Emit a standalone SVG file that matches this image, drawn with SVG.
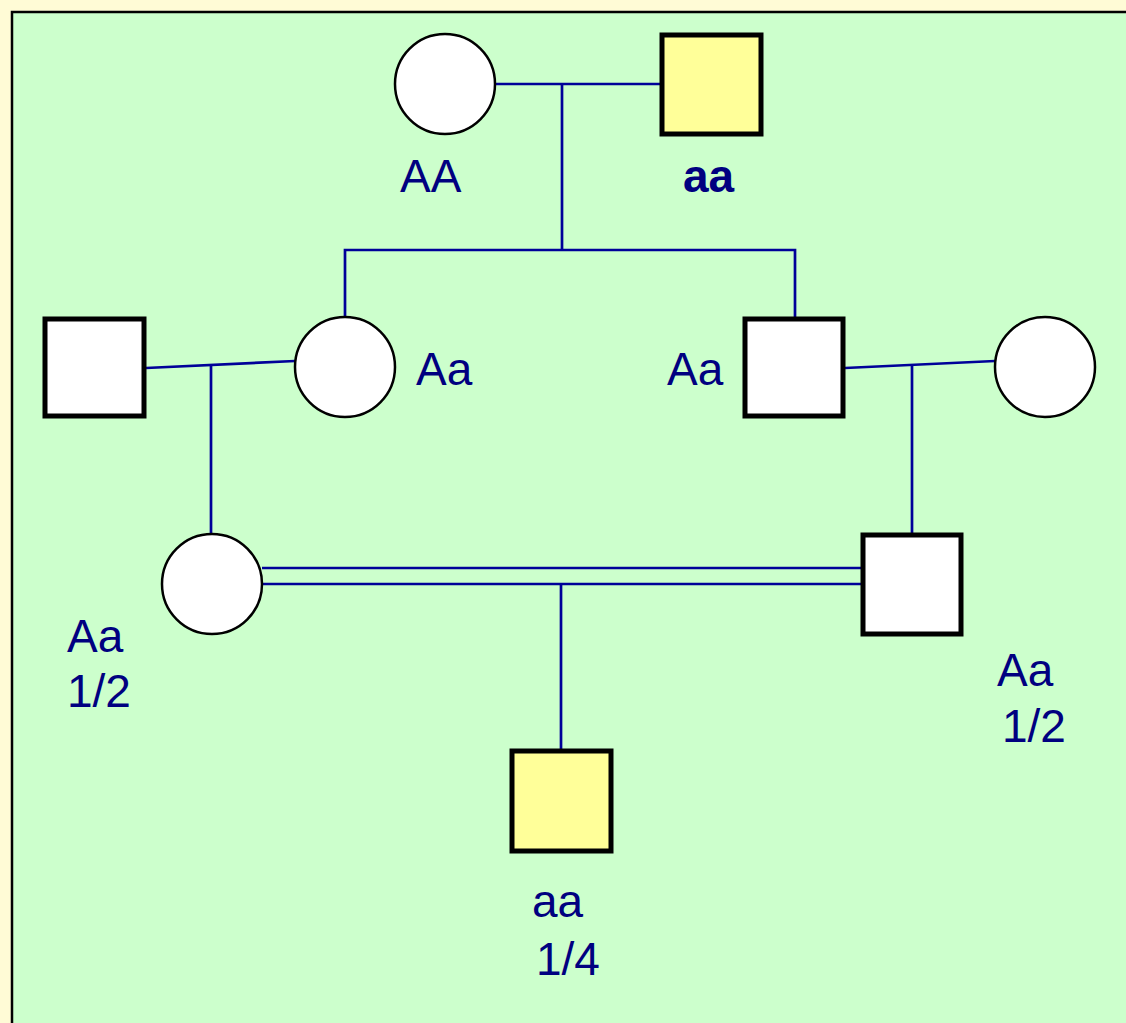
<svg xmlns="http://www.w3.org/2000/svg" width="1126" height="1023" viewBox="0 0 1126 1023">
<style>
.lbl{font-family:"Liberation Sans",Arial,sans-serif;font-size:46px;fill:#000080}
.b{font-weight:bold}
.c{fill:#ffffff;stroke:#000000;stroke-width:2.5}
.s{fill:#ffffff;stroke:#000000;stroke-width:5}
.aff{fill:#ffff99}
.ln{stroke:#000099;stroke-width:2.7;fill:none}
</style>
<rect x="0" y="0" width="1126" height="1023" fill="#fffbd6"/>
<rect x="12" y="12" width="1120" height="1020" fill="#ccffcc" stroke="#000000" stroke-width="2.5"/>
<g id="connectors">
<line class="ln" x1="496" y1="84" x2="660" y2="84"/>
<line class="ln" x1="562" y1="84" x2="562" y2="250"/>
<polyline class="ln" points="345,318 345,250 795,250 795,318"/>
<line class="ln" x1="146" y1="368" x2="295" y2="361"/>
<line class="ln" x1="211" y1="366" x2="211" y2="535"/>
<line class="ln" x1="845" y1="368" x2="995" y2="361"/>
<line class="ln" x1="912" y1="366" x2="912" y2="535"/>
<line class="ln" x1="262" y1="568" x2="862" y2="568"/>
<line class="ln" x1="262" y1="584" x2="862" y2="584"/>
<line class="ln" x1="561" y1="584" x2="561" y2="750"/>
</g>
<g id="g1-mother"><circle class="c" cx="445" cy="84" r="50"/><text class="lbl" x="400" y="192">AA</text></g>
<g id="g1-father"><rect class="s aff" x="662" y="35" width="99" height="99"/><text class="lbl b" x="683" y="192">aa</text></g>
<g id="g2-left-husband"><rect class="s" x="45" y="319" width="99" height="97"/></g>
<g id="g2-daughter"><circle class="c" cx="345" cy="367" r="50"/><text class="lbl" x="416" y="385">Aa</text></g>
<g id="g2-son"><rect class="s" x="745" y="319" width="98" height="97"/><text class="lbl" x="667" y="385">Aa</text></g>
<g id="g2-right-wife"><circle class="c" cx="1045" cy="367" r="50"/></g>
<g id="g3-female"><circle class="c" cx="212" cy="584" r="50"/><text class="lbl" x="67" y="652">Aa</text><text class="lbl" x="67" y="707">1/2</text></g>
<g id="g3-male"><rect class="s" x="863" y="535" width="98" height="99"/><text class="lbl" x="997" y="686">Aa</text><text class="lbl" x="1002" y="742">1/2</text></g>
<g id="g4-child"><rect class="s aff" x="512" y="751" width="99" height="100"/><text class="lbl" x="532" y="917">aa</text><text class="lbl" x="536" y="975">1/4</text></g>
</svg>
